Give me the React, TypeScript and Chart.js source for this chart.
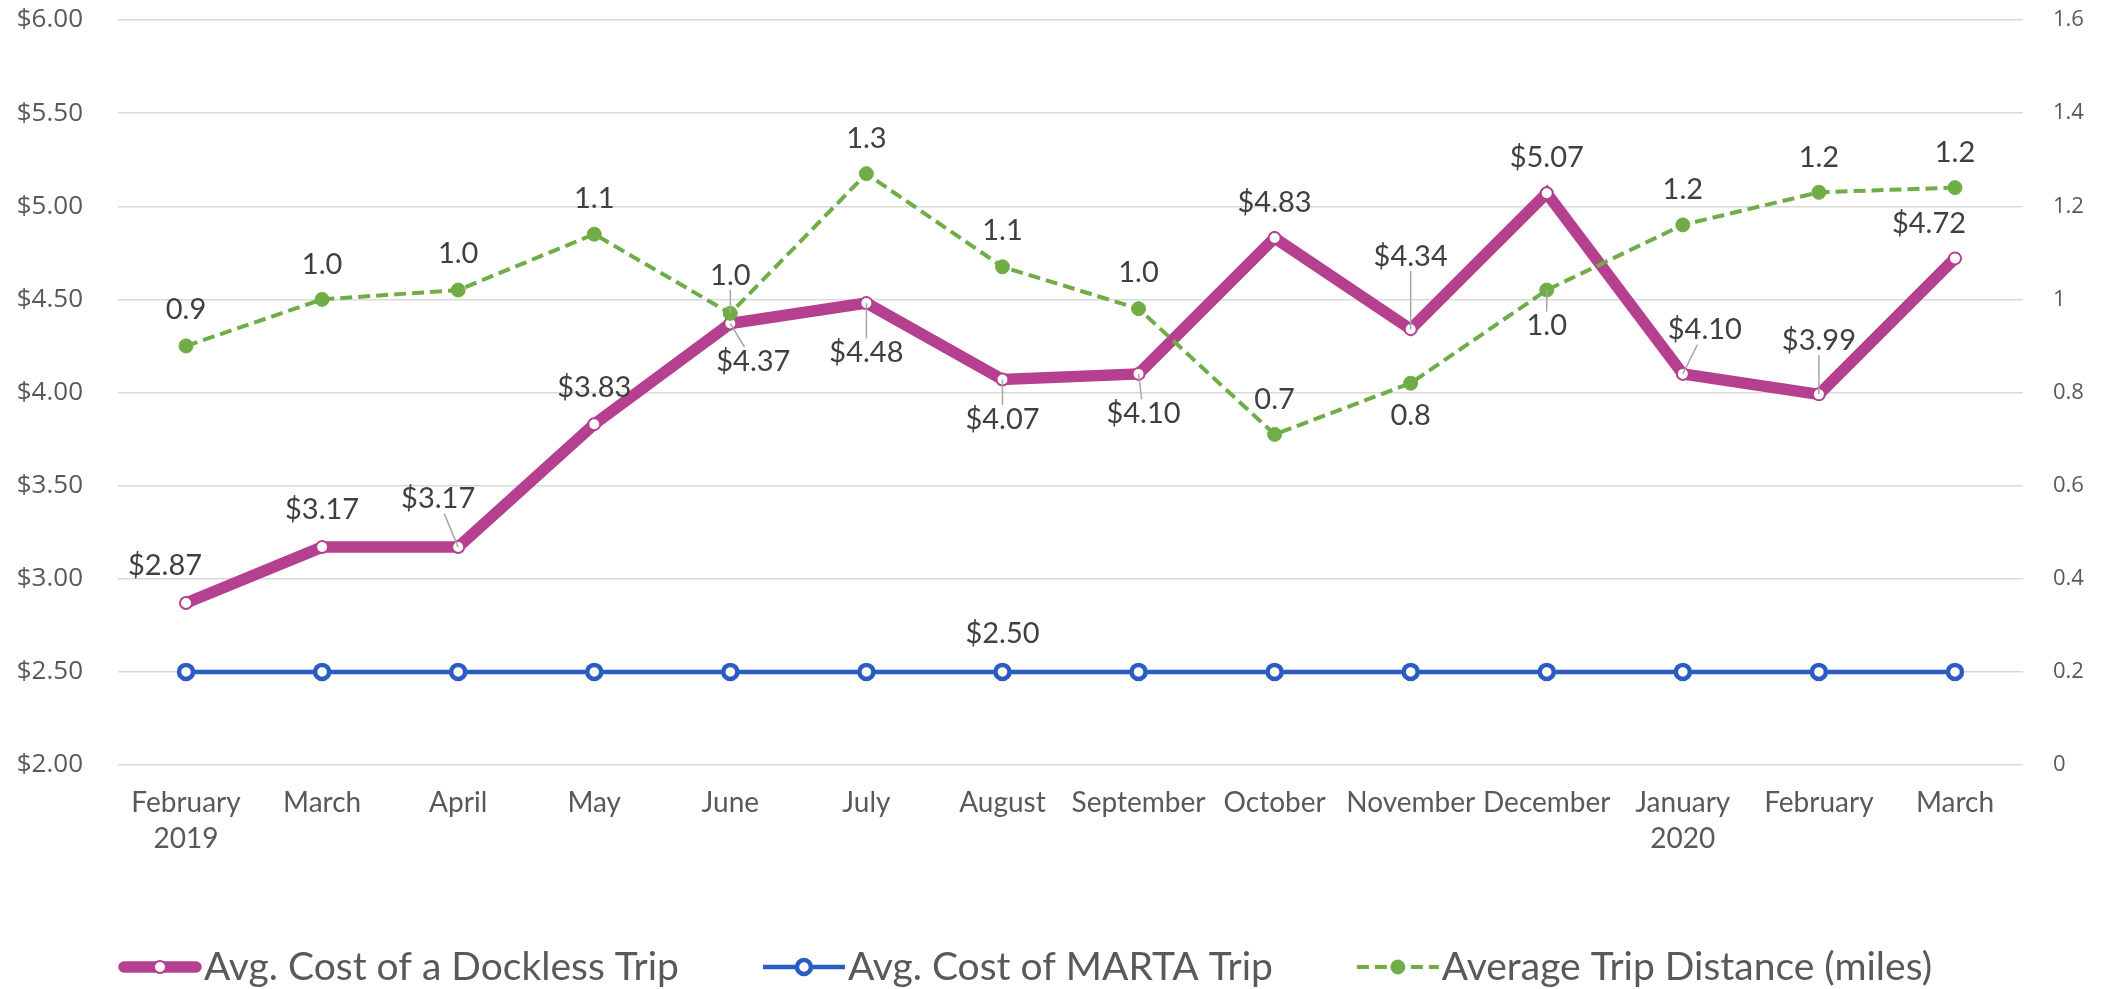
import React, { useEffect, useRef } from "react";
import { Chart, registerables } from "chart.js";

Chart.register(...registerables);

// ---------- data ----------
const months: (string | string[])[] = [
  ["February", "2019"], "March", "April", "May", "June", "July", "August",
  "September", "October", "November", "December", ["January", "2020"], "February", "March",
];
const docklessCost = [2.87, 3.17, 3.17, 3.83, 4.37, 4.48, 4.07, 4.10, 4.83, 4.34, 5.07, 4.10, 3.99, 4.72];
const martaCost = [2.5, 2.5, 2.5, 2.5, 2.5, 2.5, 2.5, 2.5, 2.5, 2.5, 2.5, 2.5, 2.5, 2.5];
const tripDistance = [0.90, 1.00, 1.02, 1.14, 0.97, 1.27, 1.07, 0.98, 0.71, 0.82, 1.02, 1.16, 1.23, 1.24];
const seriesNames = ["Avg. Cost of a Dockless Trip", "Avg. Cost of MARTA Trip", "Average Trip Distance (miles)"];
const costAxis = { min: 2, max: 6, step: 0.5 };
const distAxis = { min: 0, max: 1.6, step: 0.2 };

// label placement (dx, dy, leader) relative to each point
const docklessLabelPos = [
  [-21, -37, 0], [0, -37, 0], [-20, -48, 1], [0, -37, 0], [23, 38, 1], [0, 50, 1], [0, 40, 1],
  [5, 40, 1], [0, -35, 0], [0, -73, 1], [0, -36, 0], [22, -44, 1], [0, -54, 1], [-26, -35, 0],
];
const martaLabelPos: (number[] | null)[] = [null, null, null, null, null, null, [0, -38, 0], null, null, null, null, null, null, null];
const distanceLabelPos = [
  [0, -36, 0], [0, -35, 0], [0, -36, 0], [0, -36, 0], [0, -38, 1], [0, -35, 0], [0, -36, 0],
  [0, -36, 0], [0, -35, 0], [0, 32, 0], [0, 36, 1], [0, -35, 0], [0, -35, 0], [0, -35, 0],
];

// ---------- styles ----------
const COL = {
  dockless: "#B5408F",
  marta: "#2B5CC4",
  distance: "#70AD47",
  grid: "#D9D9D9",
  axisText: "#595959",
  labelText: "#404040",
  leader: "#A6A6A6",
};
const TEXTFONT = 'Lato, "Open Sans", sans-serif';
const AXISFONT = '"Open Sans", "Noto Sans", sans-serif';
const LABEL_SIZE = 29;

const labelSpecs: Record<number, { pos: (number[] | null)[]; fmt: (v: number) => string }> = {
  0: { pos: docklessLabelPos, fmt: (v) => "$" + v.toFixed(2) },
  1: { pos: martaLabelPos, fmt: (v) => "$" + v.toFixed(2) },
  2: { pos: distanceLabelPos, fmt: (v) => v.toFixed(1) },
};

const dataLabelPlugin = {
  id: "dataLabels",
  afterDatasetsDraw(chart: any) {
    const ctx = chart.ctx as CanvasRenderingContext2D;
    ctx.save();
    ctx.font = `${LABEL_SIZE}px ${TEXTFONT}`;
    ctx.textAlign = "center";
    ctx.textBaseline = "middle";
    chart.data.datasets.forEach((ds: any, di: number) => {
      const spec = labelSpecs[di];
      if (!spec) return;
      const meta = chart.getDatasetMeta(di);
      meta.data.forEach((pt: any, i: number) => {
        const p = spec.pos[i];
        if (!p) return;
        const text = spec.fmt(ds.data[i]);
        const cx = pt.x + p[0];
        const cy = pt.y + p[1];
        if (p[2]) {
          const w = ctx.measureText(text).width;
          const hw = w / 2 + 2;
          const hh = LABEL_SIZE * 0.4 + 3;
          const vx = pt.x - cx;
          const vy = pt.y - cy;
          const tx = Math.abs(vx) > 0.01 ? hw / Math.abs(vx) : Infinity;
          const ty = Math.abs(vy) > 0.01 ? hh / Math.abs(vy) : Infinity;
          const t = Math.min(tx, ty);
          if (t < 1) {
            ctx.strokeStyle = COL.leader;
            ctx.lineWidth = 1.5;
            ctx.beginPath();
            ctx.moveTo(cx + vx * t, cy + vy * t);
            ctx.lineTo(pt.x, pt.y);
            ctx.stroke();
          }
        }
        ctx.fillStyle = COL.labelText;
        ctx.fillText(text, cx, cy);
      });
    });
    ctx.restore();
  },
};

const legendPlugin = {
  id: "customLegend",
  afterDraw(chart: any) {
    const ctx = chart.ctx as CanvasRenderingContext2D;
    const y = 967;
    const symLen = 82;
    const gap = 84;
    ctx.save();
    ctx.font = `39px ${TEXTFONT}`;
    ctx.textBaseline = "middle";
    ctx.textAlign = "left";
    let x = chart.chartArea.left + 1;
    const ds = chart.data.datasets;
    seriesNames.forEach((name, i) => {
      const d = ds[i];
      const mid = x + symLen / 2;
      ctx.save();
      ctx.strokeStyle = d.borderColor;
      ctx.lineWidth = d.borderWidth;
      ctx.lineCap = i === 0 ? "round" : "butt";
      if (d.borderDash) ctx.setLineDash(d.borderDash);
      ctx.beginPath();
      ctx.moveTo(x + (i === 0 ? 5 : 0), y);
      ctx.lineTo(x + symLen - (i === 0 ? 5 : 0), y);
      ctx.stroke();
      ctx.setLineDash([]);
      ctx.beginPath();
      ctx.arc(mid, y, d.pointRadius, 0, Math.PI * 2);
      ctx.fillStyle = d.pointBackgroundColor;
      ctx.fill();
      ctx.lineWidth = d.pointBorderWidth;
      ctx.strokeStyle = d.pointBorderColor;
      ctx.stroke();
      ctx.restore();
      ctx.fillStyle = COL.axisText;
      ctx.fillText(name, x + symLen + 3, y);
      x += symLen + 3 + ctx.measureText(name).width + gap;
    });
    ctx.restore();
  },
};

export default function App() {
  const ref = useRef<HTMLCanvasElement | null>(null);
  useEffect(() => {
    document.body.style.margin = "0";
    document.body.style.overflow = "hidden";
    const canvas = ref.current!;
    const fitVertical = (w: number) => (s: any) => {
      s.width = w;
      s.paddingTop = 0;
      s.paddingBottom = 0;
    };
    const chart = new Chart(canvas, {
      type: "line",
      data: {
        labels: months,
        datasets: [
          {
            label: seriesNames[0],
            data: docklessCost,
            yAxisID: "y",
            borderColor: COL.dockless,
            borderWidth: 11.5,
            pointRadius: 6,
            pointBorderWidth: 2,
            pointBackgroundColor: "#FFFFFF",
            pointBorderColor: COL.dockless,
            tension: 0,
            order: 3,
          },
          {
            label: seriesNames[1],
            data: martaCost,
            yAxisID: "y",
            borderColor: COL.marta,
            borderWidth: 4.5,
            pointRadius: 7,
            pointBorderWidth: 4.5,
            pointBackgroundColor: "#FFFFFF",
            pointBorderColor: COL.marta,
            tension: 0,
            order: 2,
          },
          {
            label: seriesNames[2],
            data: tripDistance,
            yAxisID: "y1",
            borderColor: COL.distance,
            borderWidth: 4,
            borderDash: [12, 6],
            pointRadius: 7,
            pointBorderWidth: 1,
            pointBackgroundColor: COL.distance,
            pointBorderColor: COL.distance,
            tension: 0,
            order: 1,
          },
        ],
      } as any,
      options: {
        responsive: false,
        animation: false,
        layout: { padding: { top: 20, left: 0, right: 0, bottom: 0 } },
        plugins: { legend: { display: false }, tooltip: { enabled: false } },
        scales: {
          x: {
            offset: true,
            grid: { display: false, drawTicks: false },
            border: { display: false },
            ticks: {
              autoSkip: false,
              maxRotation: 0,
              padding: 20,
              color: COL.axisText,
              font: { family: TEXTFONT, size: 28, lineHeight: 1.28 },
            },
            afterFit: (s: any) => {
              s.height = 224;
            },
          },
          y: {
            position: "left",
            min: costAxis.min,
            max: costAxis.max,
            ticks: {
              stepSize: costAxis.step,
              padding: 35,
              color: COL.axisText,
              font: { family: AXISFONT, size: 26 },
              callback: (v: any) => "$" + Number(v).toFixed(2),
            },
            grid: { color: COL.grid, lineWidth: 1.5, drawTicks: false },
            border: { display: false },
            afterFit: fitVertical(118),
          },
          y1: {
            position: "right",
            min: distAxis.min,
            max: distAxis.max,
            ticks: {
              stepSize: distAxis.step,
              padding: 30,
              color: COL.axisText,
              font: { family: AXISFONT, size: 22 },
              callback: (v: any) => String(Math.round(Number(v) * 10) / 10),
            },
            grid: { display: false, drawTicks: false },
            border: { display: false },
            afterFit: fitVertical(85),
          },
        },
      } as any,
      plugins: [dataLabelPlugin, legendPlugin],
    });
    return () => chart.destroy();
  }, []);
  return (
    <div style={{ width: 2108, height: 989, background: "#FFFFFF" }}>
      <canvas ref={ref} width={2108} height={989} style={{ display: "block", width: 2108, height: 989 }} />
    </div>
  );
}
